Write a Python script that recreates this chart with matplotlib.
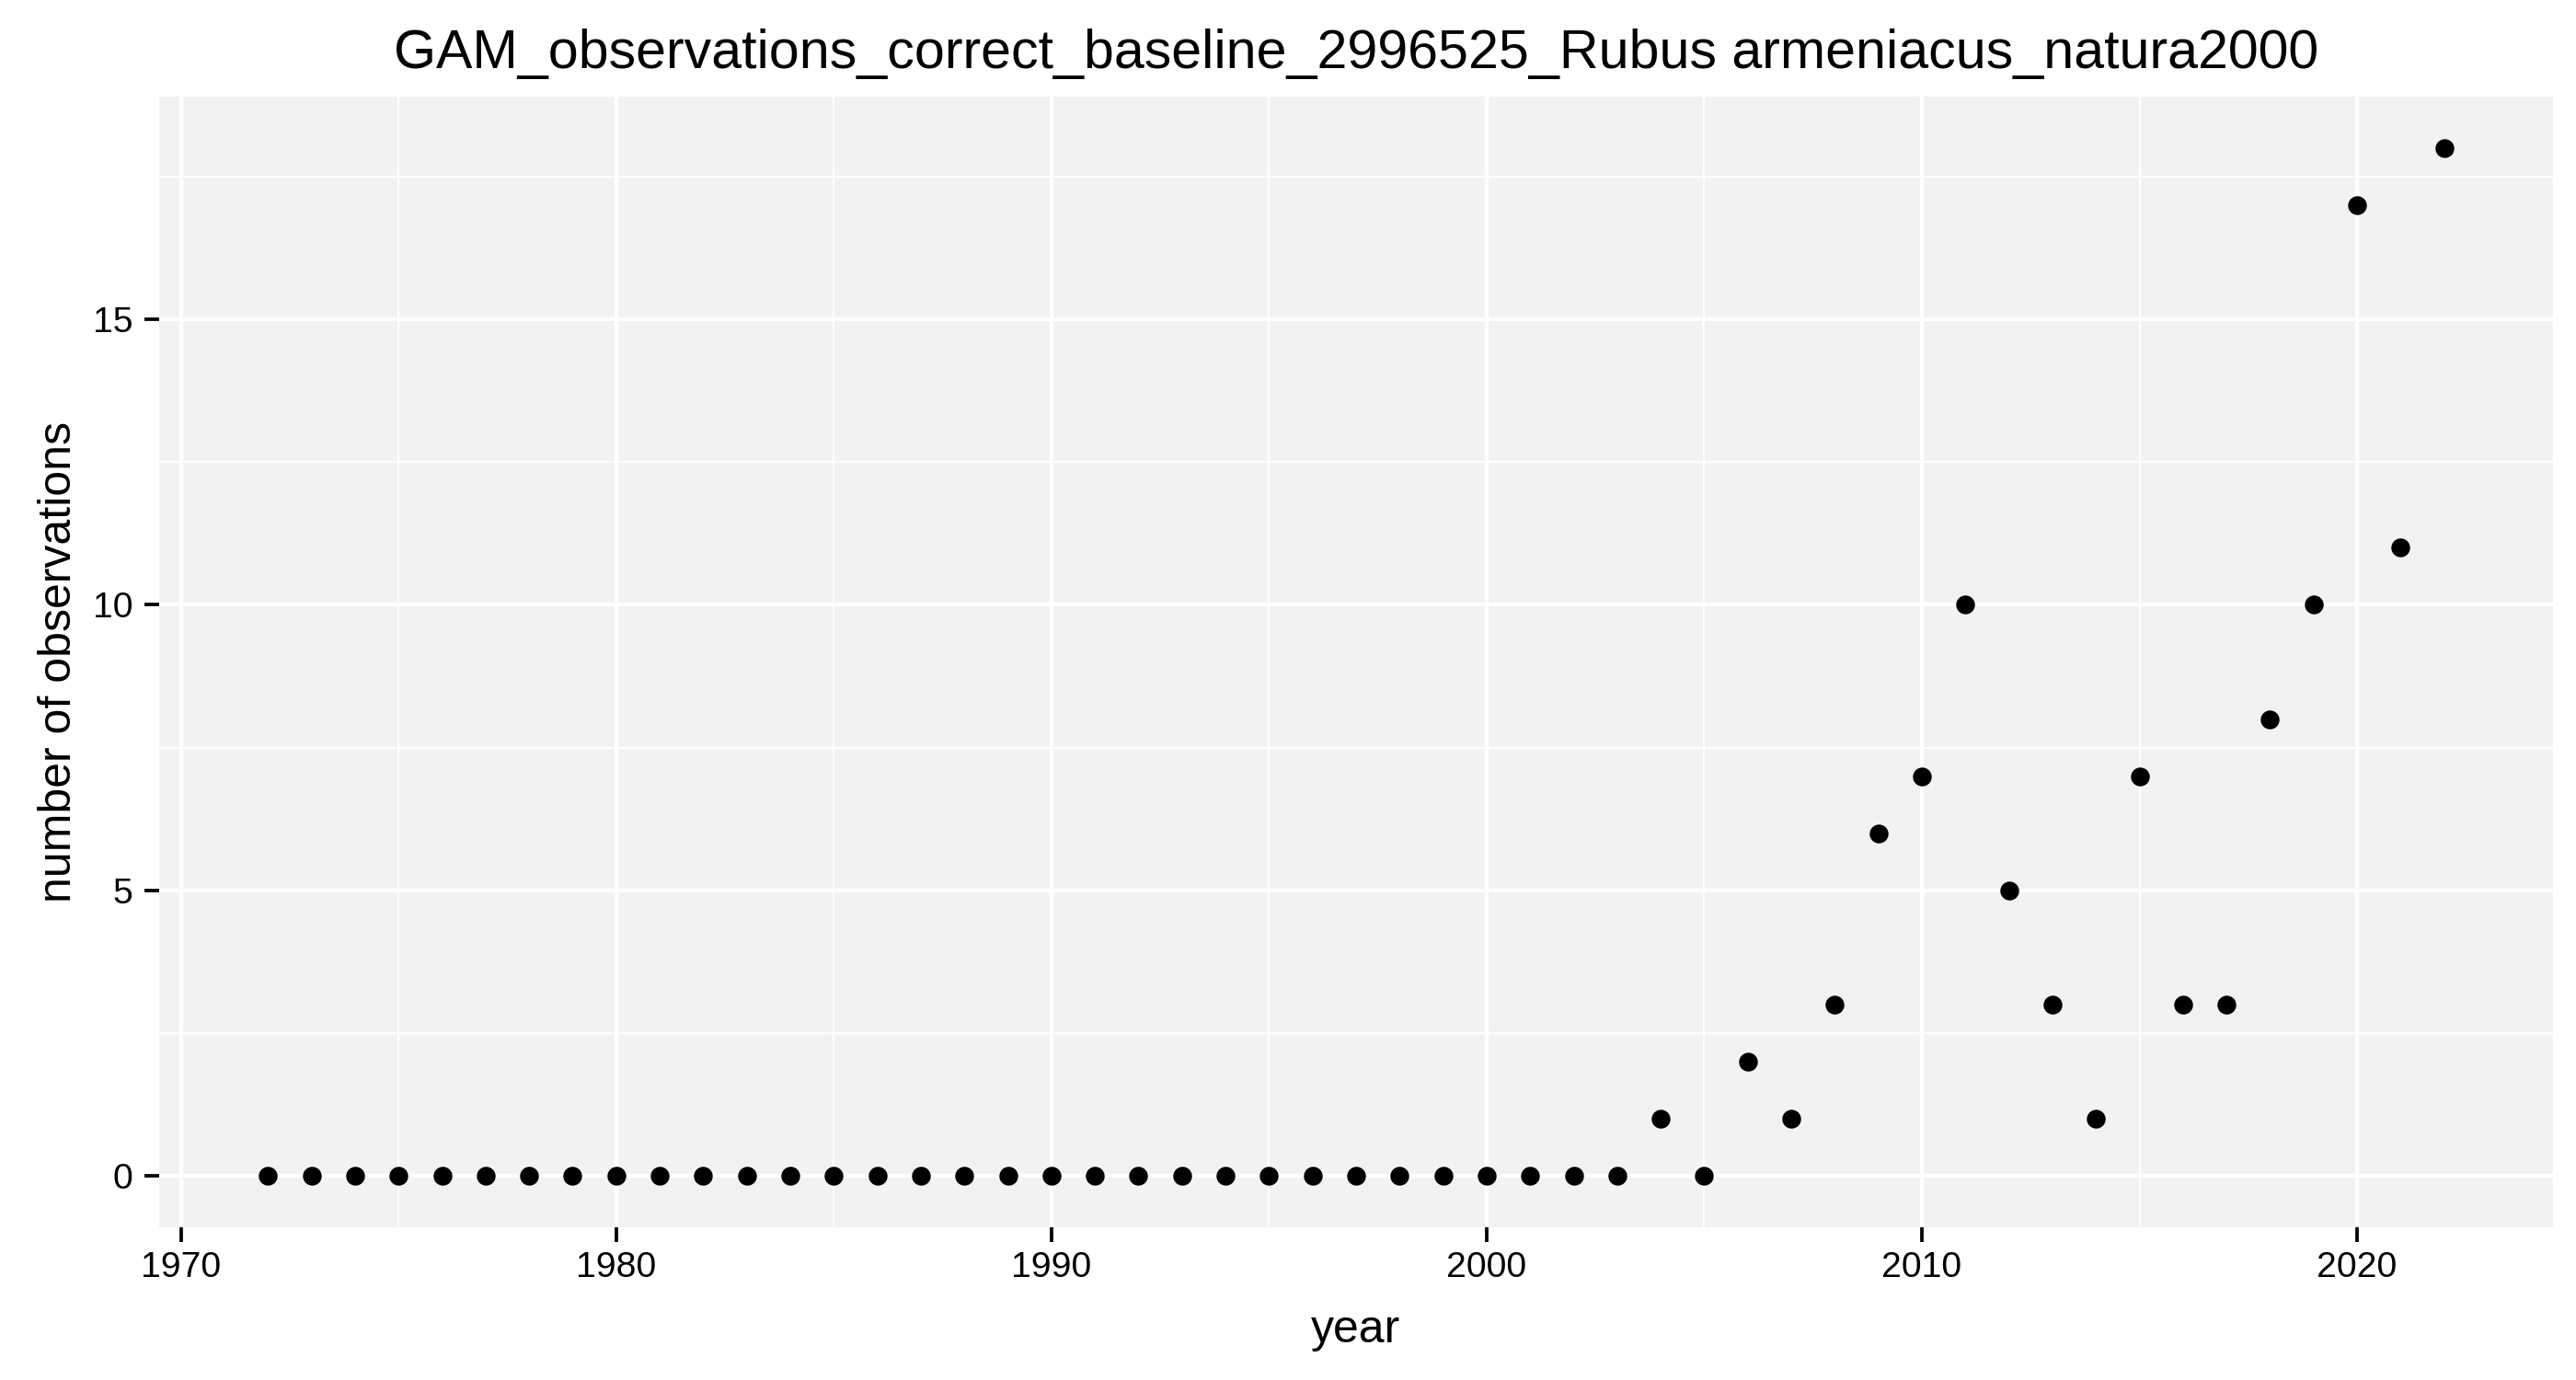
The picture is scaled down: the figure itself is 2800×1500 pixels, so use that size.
import matplotlib
matplotlib.use('Agg')
import matplotlib.pyplot as plt
from matplotlib.ticker import MultipleLocator

plt.rcParams['font.family'] = ['Liberation Sans', 'DejaVu Sans']

# year and observation counts
years = list(range(1972, 2023))
counts = [0] * 32 + [1, 0, 2, 1, 3, 6, 7, 10, 5, 3, 1, 7, 3, 3, 8, 10, 17, 11, 18]

title = 'GAM_observations_correct_baseline_2996525_Rubus armeniacus_natura2000'
x_label = 'year'
y_label = 'number of observations'

# panel edges in pixels
left, right, top, bottom = 173, 2775, 105, 1334

fig = plt.figure(figsize=(2800 / 300, 1500 / 300), dpi=300)
ax = fig.add_axes([left / 2800, 1 - bottom / 1500, (right - left) / 2800, (bottom - top) / 1500])

ax.set_facecolor('#f2f2f2')
for s in ax.spines.values():
    s.set_visible(False)

ax.scatter(years, counts, s=24, color='black', linewidths=0, zorder=3)

# ggplot-style 5% expansion
xr = max(years) - min(years)
yr = max(counts) - min(counts)
ax.set_xlim(min(years) - 0.05 * xr, max(years) + 0.05 * xr)
ax.set_ylim(min(counts) - 0.05 * yr, max(counts) + 0.05 * yr)

ax.xaxis.set_major_locator(MultipleLocator(10))
ax.xaxis.set_minor_locator(MultipleLocator(5))
ax.yaxis.set_major_locator(MultipleLocator(5))
ax.yaxis.set_minor_locator(MultipleLocator(2.5))

ax.grid(which='major', color='white', linewidth=1.0, zorder=0)
ax.grid(which='minor', color='white', linewidth=0.5, zorder=0)
ax.set_axisbelow(True)

ax.tick_params(which='major', length=3.8, width=0.9, color='black',
               labelsize=9.4, labelcolor='black')
ax.tick_params(axis='y', pad=3.0)
ax.tick_params(axis='x', pad=2.4)
ax.tick_params(which='minor', length=0)

cx = (left + right) / 2 / 2800
fig.text(cx, 1 - 74 / 1500, title, ha='center', va='baseline', fontsize=14.2)
fig.text(cx, 1 - 1459 / 1500, x_label, ha='center', va='baseline', fontsize=12)
fig.text(77 / 2800, 1 - (top + bottom) / 2 / 1500, y_label, ha='center', va='baseline',
         rotation=90, rotation_mode='anchor', fontsize=12)

fig.savefig('out.png', dpi=300, facecolor='white')
